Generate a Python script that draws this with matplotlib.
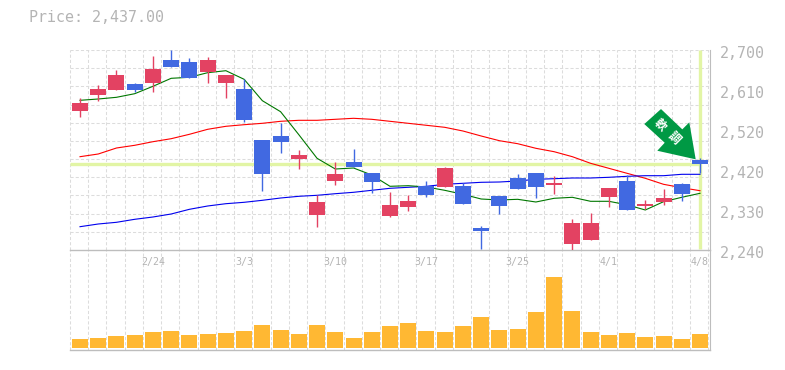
import numpy as np
import matplotlib
matplotlib.use("Agg")
import matplotlib.pyplot as plt
from matplotlib.patches import Polygon
from matplotlib.transforms import IdentityTransform

plt.rcParams["font.family"] = ["DejaVu Sans Mono", "Noto Sans CJK JP"]

W, H = 785, 370

# daily candles
opens = [2560.4, 2596.5, 2608, 2621.8, 2624, 2677, 2672.4, 2649.4, 2624, 2610.3, 2493, 2502.2,
         2449.3, 2320.5, 2398.7, 2442.4, 2417.1, 2318.2, 2338.9, 2387.2, 2384.9, 2387.2, 2290.6, 2364.2,
         2405.6, 2417.1, 2389.5, 2253.8, 2263, 2361.9, 2398.7, 2341.2, 2350.4, 2391.8, 2447]
closes = [2578.1, 2610.3, 2642.5, 2608, 2656.3, 2660.9, 2635.6, 2677, 2642.5, 2539, 2414.8, 2488.4,
          2458.5, 2350.4, 2414.8, 2430.9, 2396.4, 2343.5, 2352.7, 2366.5, 2428.6, 2345.8, 2283.7, 2341.2,
          2380.3, 2384.9, 2394, 2302.1, 2302.1, 2382.6, 2332, 2345.8, 2359.6, 2368.8, 2437]
highs = [2589.6, 2619.5, 2654, 2624, 2686.2, 2700, 2681.6, 2683.9, 2642.5, 2633.3, 2493, 2532.1,
         2470, 2366.5, 2442.4, 2472.3, 2417.1, 2373.4, 2366.5, 2398.7, 2430.9, 2394, 2295.2, 2364.2,
         2414.8, 2417.1, 2410.2, 2311.3, 2325.1, 2382.6, 2412.5, 2355, 2380.3, 2394, 2451.6]
lows = [2546.6, 2582.7, 2608, 2603.4, 2603.4, 2660.9, 2635.6, 2624, 2589.6, 2534.4, 2375.7, 2463.1,
        2426.3, 2292.9, 2389.5, 2430.9, 2371.1, 2315.9, 2329.7, 2361.9, 2384.9, 2345.8, 2242.3, 2322.8,
        2380.3, 2359.6, 2368.8, 2240, 2263, 2338.9, 2332, 2334.3, 2343.5, 2352.7, 2417.1]

# moving averages
ma_short = [2584.3, 2587.3, 2591.2, 2599.5, 2616.5, 2634.9, 2637.2, 2647.8, 2652.4, 2632.6, 2583.4, 2558.1,
            2505.2, 2450.9, 2426.3, 2428.6, 2412.5, 2386.5, 2387.9, 2384.9, 2377.3, 2368.1, 2357.3, 2355,
            2356.6, 2350.4, 2358.9, 2361.2, 2352, 2352, 2344, 2332, 2351.1, 2361.2, 2370.4]
ma_mid = [2454.6, 2460.8, 2474.6, 2480.8, 2489.1, 2496, 2506.1, 2517.6, 2524.5, 2528.2, 2531.4, 2536,
          2538.3, 2538.3, 2540.6, 2542.9, 2540.6, 2536, 2531.4, 2526.8, 2522.2, 2513.7, 2502.2, 2491.4,
          2484.5, 2473.9, 2466.1, 2454.6, 2439.4, 2427.9, 2416.4, 2404.9, 2391.1, 2383.3, 2376.4]
ma_long = [2293.6, 2299.8, 2303.7, 2310.6, 2315.9, 2322.8, 2333.6, 2341.2, 2346.5, 2349.7, 2354.3, 2359.6,
           2363.5, 2365.8, 2369.5, 2372.7, 2377.3, 2381.9, 2384.2, 2386.5, 2391.1, 2393.4, 2395.7, 2396.4,
           2398.7, 2402.6, 2404, 2405.6, 2405.6, 2407.2, 2409.5, 2410.9, 2410.9, 2414.1, 2414.1]

volumes = [27, 30, 36, 39, 48, 51, 39, 42, 45, 51, 69, 54, 42, 69, 48, 30, 48, 66,
           75, 51, 48, 66, 93, 54, 57, 108, 213, 111, 48, 39, 45, 33, 36, 27, 42]

price_ticks = [2700, 2608, 2516, 2424, 2332, 2240]
price_labels = ["2,700", "2,610", "2,520", "2,420", "2,330", "2,240"]
date_pos = [4, 9, 14, 19, 24, 29, 34]
date_labels = ["2/24", "3/3", "3/10", "3/17", "3/25", "4/1", "4/8"]
last_price = 2437.00

RED = "#e34262"
BLUE = "#4169e1"
GRID = "#dcdcdc"
EDGE = "#bdbdbd"
TEXT = "#b4b4b4"
LIME = "#e2f5a5"
AMBER = "#ffb833"
ARROW = "#009944"


def px_axes(fig, x0, y0, x1, y1):
    # y は画像の上からのピクセル
    return fig.add_axes([x0 / W, 1 - y1 / H, (x1 - x0) / W, (y1 - y0) / H])


fig = plt.figure(figsize=(W / 100, H / 100), dpi=100, facecolor="white")
axv = px_axes(fig, 70, 250, 710, 350)
ax = px_axes(fig, 70, 50, 710, 250)
ax.patch.set_visible(False)

slot = 18.235
xlim = (-10 / slot, 34 + 10 / slot)
grid_x = xlim[0] + np.arange(0, 36)

for a in (ax, axv):
    a.set_xlim(xlim)
    for x in grid_x:
        a.axvline(x, color=GRID, lw=0.75, ls=(0, (3, 2)), zorder=0, clip_on=False)
    for s in a.spines.values():
        s.set_visible(False)
    a.spines["right"].set_visible(True)
    a.spines["right"].set_color(EDGE)
    a.spines["bottom"].set_visible(True)
    a.spines["bottom"].set_color(EDGE)
    a.spines["bottom"].set_linewidth(1.0)
    a.set_xticks([])
    a.set_yticks([])

ax.set_ylim(2240, 2700)
for p in np.linspace(2240, 2700, 12)[1:]:
    ax.axhline(p, color=GRID, lw=0.75, ls=(0, (3, 2)), zorder=0)

# 現在値ライン
idx = np.arange(len(opens))
ax.plot([xlim[0], idx[-1]], [last_price, last_price], color=LIME, lw=2.4, zorder=1, solid_capstyle="butt")
ax.plot([idx[-1], idx[-1]], [2242, 2700], color=LIME, lw=2.4, zorder=1, solid_capstyle="butt")

ax.plot(idx, ma_mid, color="#ff0000", lw=0.8, zorder=3)
ax.plot(idx, ma_long, color="#0000ee", lw=0.8, zorder=3)
ax.plot(idx, ma_short, color="#007700", lw=0.8, zorder=3)

for i in idx:
    c = RED if closes[i] >= opens[i] else BLUE
    ax.vlines(i, lows[i], highs[i], color=c, lw=1.0, zorder=4)
    ax.bar(i, abs(closes[i] - opens[i]), bottom=min(opens[i], closes[i]), width=16 / slot, color=c, zorder=4)

# 矢印（先端から見たピクセルオフセット）
tip = ax.transData.transform((idx[-1], last_price))
arrow_off = np.array([[-4.3, 5], [-42.7, 13.6], [-35.3, 21.6], [-55.7, 40.3],
                      [-39, 55.3], [-17.7, 35], [-10.7, 42]])
ax.add_patch(Polygon(tip + arrow_off, closed=True, transform=IdentityTransform(), fc=ARROW, ec="none", zorder=5))
for ch, (dx, dy) in zip("軟調", [(-40, 39), (-26, 27)]):
    ax.text(tip[0] + dx, tip[1] + dy, ch, transform=IdentityTransform(), rotation=-45, rotation_mode="anchor",
            ha="center", va="center", color="white", fontsize=8.5, fontweight="bold",
            family=["Noto Sans CJK JP"], zorder=6)

axv.bar(idx, volumes, width=16 / slot, color=AMBER, zorder=2)
axv.set_ylim(-6, 294)

for p, lab in zip(price_ticks, price_labels):
    ax.annotate(lab, xy=(1, p), xycoords=("axes fraction", "data"), xytext=(10, -3), textcoords="offset pixels",
                ha="left", va="center", color=TEXT, fontsize=10.8, annotation_clip=False)

for i, lab in zip(date_pos, date_labels):
    ax.annotate(lab, xy=(i, 2240), xytext=(0, -12), textcoords="offset pixels",
                ha="center", va="center", color=TEXT, fontsize=7.2, annotation_clip=False)

fig.text(29 / W, 1 - 18 / H, f"Price: {last_price:,.2f}", color=TEXT, fontsize=10.8, ha="left", va="center")

fig.savefig("out.png", dpi=100)
plt.close(fig)
